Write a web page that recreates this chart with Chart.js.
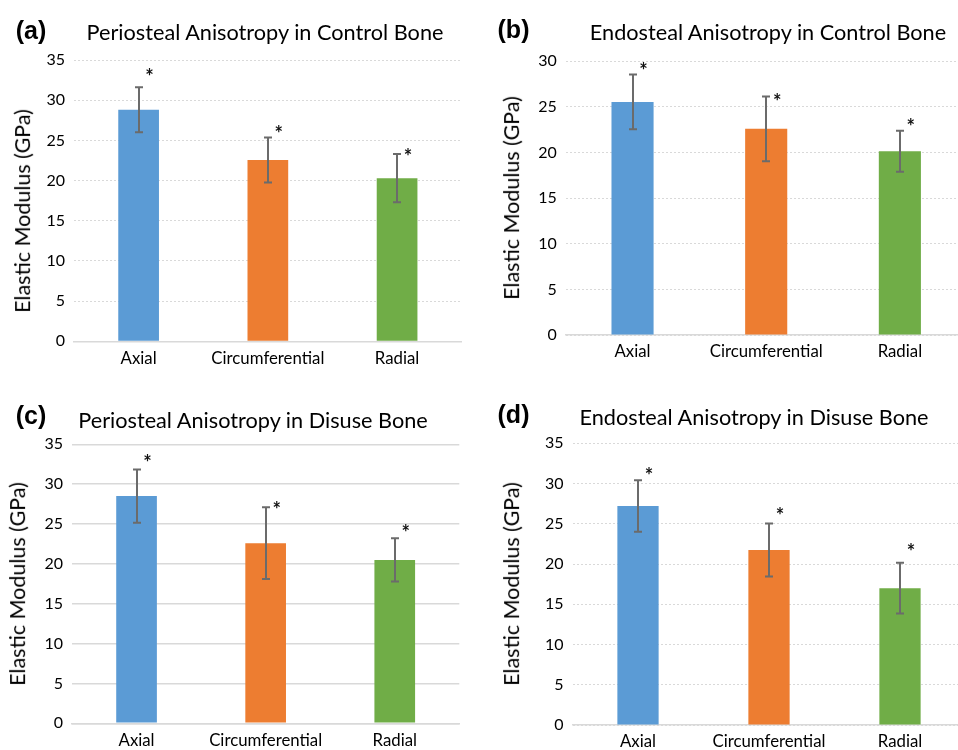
<!DOCTYPE html>
<html>
<head>
<meta charset="utf-8">
<script src="https://cdn.jsdelivr.net/npm/chart.js@4.4.1/dist/chart.umd.min.js"></script>
<style>
  html, body { margin: 0; padding: 0; background: #fff; }
  #page { position: relative; width: 958px; height: 750px; overflow: hidden; font-family: Lato, sans-serif; }
  .panel { position: absolute; width: 479px; height: 375px; overflow: hidden; }
  .panel canvas { position: absolute; left: 0; top: 0; }
  .txt { position: absolute; white-space: nowrap; line-height: 1.2; color: #000; transform: translate(-50%, -50%); }
  .letter { font-family: "Liberation Sans", Arial, sans-serif; font-weight: bold; font-size: 25px; }
  .title { font-size: 21.7px; }
  .ytitle { font-size: 21.5px; transform: translate(-50%, -50%) rotate(-90deg); }
</style>
</head>
<body>
<div id="page"></div>
<script>
// --- datos ---
const categorias = ['Axial', 'Circumferential', 'Radial'];
const colores = ['#5B9BD5', '#ED7D31', '#70AD47'];

// (a) periostal, control
const perioControl = [28.8, 22.55, 20.3];
const perioControlErr = [2.8, 2.8, 3.0];
const perioControlStar = [33.4, 26.3, 23.4];

// (b) endostal, control
const endoControl = [25.55, 22.6, 20.15];
const endoControlErr = [3.0, 3.55, 2.25];
const endoControlStar = [29.4, 25.95, 23.2];

// (c) periostal, desuso
const perioDisuse = [28.5, 22.6, 20.5];
const perioDisuseErr = [3.35, 4.5, 2.7];
const perioDisuseStar = [33.1, 27.3, 24.4];

// (d) endostal, desuso
const endoDisuse = [27.2, 21.75, 17.0];
const endoDisuseErr = [3.2, 3.3, 3.15];
const endoDisuseStar = [31.4, 26.5, 22.0];

const Y_AXIS_W = 40;
const X_AXIS_H = 36;
const CANVAS_H = 400;
const STAR_DX = 11;

// error bars + asterisks drawn through the y scale
const errorBarPlugin = {
    id: 'errorBars',
    afterDatasetsDraw(chart, args, opts) {
        const { ctx } = chart;
        const y = chart.scales.y;
        const meta = chart.getDatasetMeta(0);
        const vals = chart.data.datasets[0].data;
        ctx.save();
        ctx.strokeStyle = '#6b6b6b';
        ctx.lineWidth = 2;
        meta.data.forEach((bar, i) => {
            const x = Math.round(bar.x);
            const top = y.getPixelForValue(vals[i] + opts.errors[i]);
            const bot = y.getPixelForValue(vals[i] - opts.errors[i]);
            ctx.beginPath();
            ctx.moveTo(x, top); ctx.lineTo(x, bot);
            ctx.moveTo(x - 4, top); ctx.lineTo(x + 4, top);
            ctx.moveTo(x - 4, bot); ctx.lineTo(x + 4, bot);
            ctx.stroke();
        });
        ctx.fillStyle = '#111';
        ctx.font = 'bold 20px Lato';
        ctx.textAlign = 'center';
        ctx.textBaseline = 'alphabetic';
        meta.data.forEach((bar, i) => {
            const sy = y.getPixelForValue(opts.stars[i]);
            ctx.fillText('*', bar.x + STAR_DX, sy + 0.55 * 20);
        });
        ctx.restore();
    }
};

const paneles = [
    { letra: '(a)', titulo: 'Periosteal Anisotropy in Control Bone', valores: perioControl, errores: perioControlErr, estrellas: perioControlStar,
      yMax: 35, punteado: true, left: 0, top: 0, w: 479, area: { l: 74, r: 461.7, t: 60, b: 341.3 },
      tituloEn: [265, 32], letraEn: [31, 30], yTituloEn: [23.3, 210.7] },
    { letra: '(b)', titulo: 'Endosteal Anisotropy in Control Bone', valores: endoControl, errores: endoControlErr, estrellas: endoControlStar,
      yMax: 30, punteado: true, left: 479, top: 0, w: 500, area: { l: 86.7, r: 487.7, t: 61.3, b: 335 },
      tituloEn: [289, 32], letraEn: [34.5, 29.2], yTituloEn: [33.3, 198.3] },
    { letra: '(c)', titulo: 'Periosteal Anisotropy in Disuse Bone', valores: perioDisuse, errores: perioDisuseErr, estrellas: perioDisuseStar,
      yMax: 35, punteado: false, left: 0, top: 375, w: 479, area: { l: 72, r: 459.3, t: 69.3, b: 348.3 },
      tituloEn: [253, 44.8], letraEn: [31, 39.7], yTituloEn: [18.3, 208.8] },
    { letra: '(d)', titulo: 'Endosteal Anisotropy in Disuse Bone', valores: endoDisuse, errores: endoDisuseErr, estrellas: endoDisuseStar,
      yMax: 35, punteado: true, left: 479, top: 375, w: 500, area: { l: 93.5, r: 486.5, t: 68.3, b: 350 },
      tituloEn: [275, 41.8], letraEn: [34.5, 39.2], yTituloEn: [33.3, 209.2] }
];

function ponerTexto(cont, clase, texto, pos) {
    const d = document.createElement('div');
    d.className = 'txt ' + clase;
    d.textContent = texto;
    d.style.left = pos[0] + 'px';
    d.style.top = pos[1] + 'px';
    cont.appendChild(d);
}

const pagina = document.getElementById('page');
const yTickFont = { family: 'Lato', size: 16 };
const xTickFont = { family: 'Lato', size: 16.8 };

paneles.forEach(p => {
    const cont = document.createElement('div');
    cont.className = 'panel';
    cont.style.left = p.left + 'px';
    cont.style.top = p.top + 'px';
    const canvas = document.createElement('canvas');
    canvas.width = p.w;
    canvas.height = CANVAS_H;
    canvas.style.width = p.w + 'px';
    canvas.style.height = CANVAS_H + 'px';
    cont.appendChild(canvas);
    pagina.appendChild(cont);

    ponerTexto(cont, 'letter', p.letra, p.letraEn);
    ponerTexto(cont, 'title', p.titulo, p.tituloEn);
    ponerTexto(cont, 'ytitle', 'Elastic Modulus (GPa)', p.yTituloEn);

    new Chart(canvas, {
        type: 'bar',
        data: {
            labels: categorias,
            datasets: [{ data: p.valores, backgroundColor: colores, barPercentage: 0.315, categoryPercentage: 1 }]
        },
        options: {
            responsive: false,
            animation: false,
            devicePixelRatio: 1,
            layout: {
                padding: {
                    left: p.area.l - Y_AXIS_W,
                    right: p.w - p.area.r,
                    top: p.area.t,
                    bottom: CANVAS_H - p.area.b - X_AXIS_H
                }
            },
            plugins: {
                legend: { display: false },
                tooltip: { enabled: false },
                title: { display: false },
                errorBars: { errors: p.errores, stars: p.estrellas }
            },
            scales: {
                x: {
                    grid: { display: false, drawTicks: false },
                    border: { display: true, color: '#d9d9d9', width: 1.5 },
                    ticks: { font: xTickFont, color: '#000', padding: 7 },
                    afterFit: s => { s.height = X_AXIS_H; }
                },
                y: {
                    min: 0,
                    max: p.yMax,
                    ticks: { stepSize: 5, font: yTickFont, color: '#000', padding: 9 },
                    grid: { color: '#d9d9d9', lineWidth: p.punteado ? 1 : 1.5, drawTicks: false },
                    border: { display: false, dash: p.punteado ? [2, 2] : [] },
                    afterFit: s => { s.width = Y_AXIS_W; }
                }
            }
        },
        plugins: [errorBarPlugin]
    });
});
</script>
</body>
</html>
